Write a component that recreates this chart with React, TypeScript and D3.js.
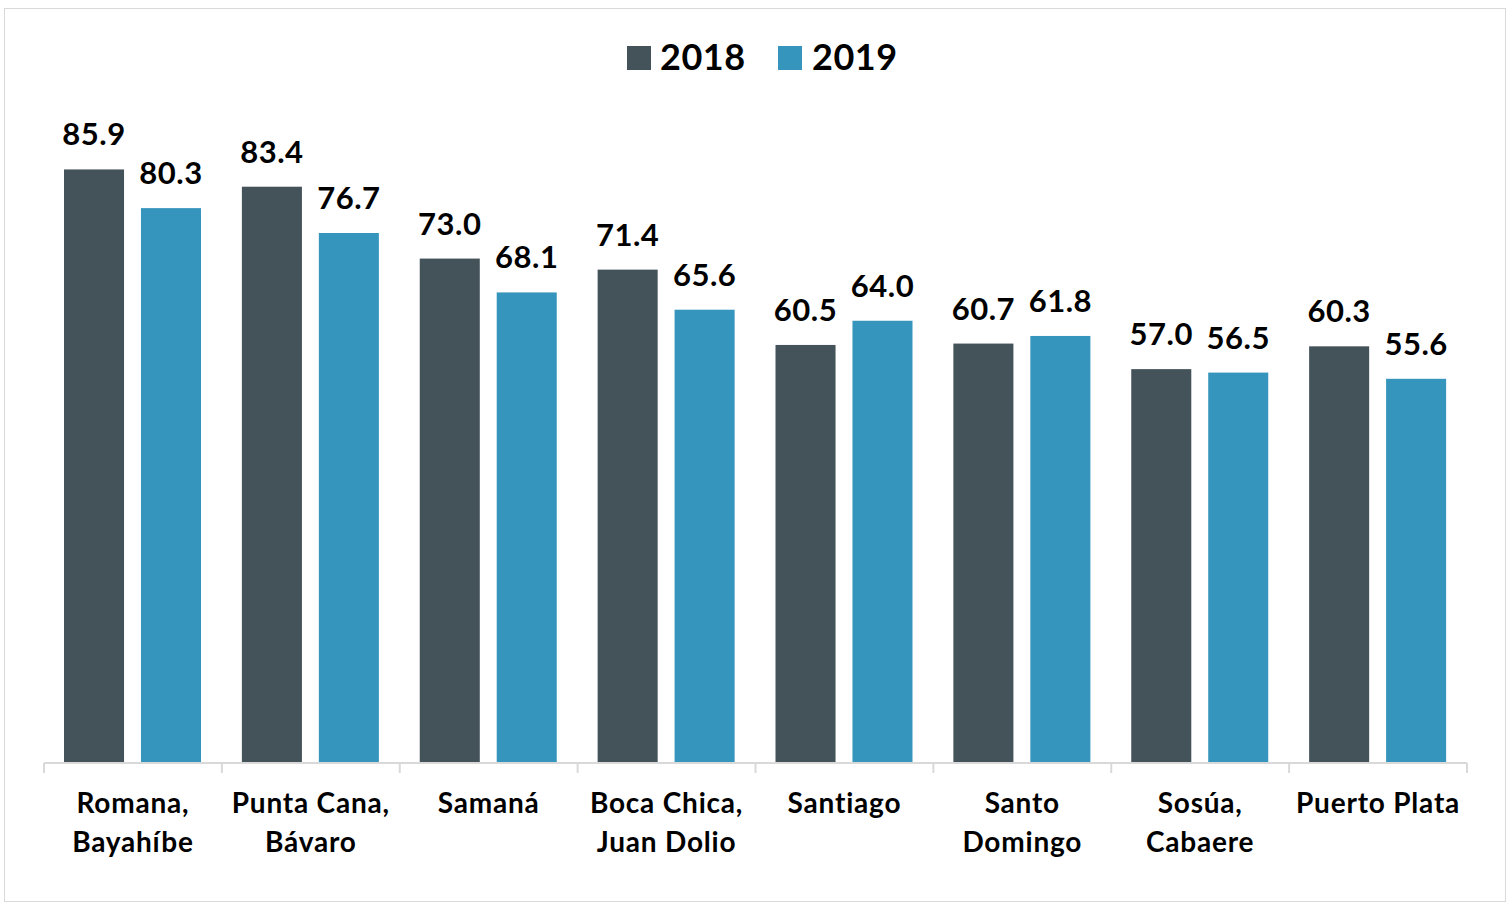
import React from "react";
import * as d3 from "d3";

const categories: string[][] = [
  ["Romana,", "Bayahíbe"],
  ["Punta Cana,", "Bávaro"],
  ["Samaná"],
  ["Boca Chica,", "Juan Dolio"],
  ["Santiago"],
  ["Santo", "Domingo"],
  ["Sosúa,", "Cabaere"],
  ["Puerto Plata"],
];
const seriesNames = ["2018", "2019"];
const values2018 = [85.9, 83.4, 73.0, 71.4, 60.5, 60.7, 57.0, 60.3];
const values2019 = [80.3, 76.7, 68.1, 65.6, 64.0, 61.8, 56.5, 55.6];
const colors = ["#44525A", "#3595BC"];

const W = 1512;
const H = 905;
const FONT = "Lato, 'Open Sans', sans-serif";

export default function App() {
  const keys = categories.map((c) => c.join(" "));
  const x0 = d3.scaleBand<string>().domain(keys).range([44, 1467]).padding(0);
  const x1 = d3
    .scaleBand<string>()
    .domain(seriesNames)
    .range([20, 157])
    .paddingInner(0.22)
    .paddingOuter(0);
  const y = d3.scaleLinear().domain([0, 100]).range([763, 72]);
  const series = [values2018, values2019];
  const tickXs = keys.map((k) => x0(k)!).concat([x0.range()[1]]);

  return (
    <svg
      width={W}
      height={H}
      style={{ position: "absolute", left: 0, top: 0, background: "#fff" }}
      fontFamily={FONT}
    >
      <rect x={4.5} y={8.5} width={1501} height={893} fill="#fff" stroke="#D9D9D9" strokeWidth={1} />
      {/* Legend */}
      <g>
        <rect x={627} y={46} width={24} height={24} fill={colors[0]} />
        <text x={660} y={70} fontSize={36} fontWeight={700} fill="#000" letterSpacing={0.5}>
          {seriesNames[0]}
        </text>
        <rect x={778} y={46} width={24} height={24} fill={colors[1]} />
        <text x={812} y={70} fontSize={36} fontWeight={700} fill="#000" letterSpacing={0.5}>
          {seriesNames[1]}
        </text>
      </g>
      {/* Bars */}
      {keys.map((k, i) => (
        <g key={k} transform={`translate(${x0(k)},0)`}>
          {series.map((vals, s) => {
            const bx = x1(seriesNames[s])!;
            const bw = x1.bandwidth();
            const v = vals[i];
            return (
              <g key={s}>
                <rect x={bx} y={y(v)} width={bw} height={y(0) - y(v)} fill={colors[s]} />
                <text
                  x={bx + bw / 2}
                  y={y(v) - 24}
                  textAnchor="middle"
                  fontSize={31}
                  fontWeight={700}
                  fill="#000"
                  letterSpacing={0.5}
                >
                  {v.toFixed(1)}
                </text>
              </g>
            );
          })}
        </g>
      ))}
      {/* Axis */}
      <line x1={44} x2={1467} y1={763} y2={763} stroke="#D9D9D9" strokeWidth={2} />
      {tickXs.map((tx, i) => (
        <line key={i} x1={tx} x2={tx} y1={763} y2={773} stroke="#D9D9D9" strokeWidth={2} />
      ))}
      {categories.map((lines, i) => (
        <text
          key={i}
          x={x0(keys[i])! + x0.bandwidth() / 2}
          y={813}
          textAnchor="middle"
          fontSize={28}
          fontWeight={700}
          fill="#000"
          letterSpacing={0.8}
        >
          {lines.map((ln, j) => (
            <tspan key={j} x={x0(keys[i])! + x0.bandwidth() / 2} dy={j === 0 ? 0 : 39}>
              {ln}
            </tspan>
          ))}
        </text>
      ))}
    </svg>
  );
}
